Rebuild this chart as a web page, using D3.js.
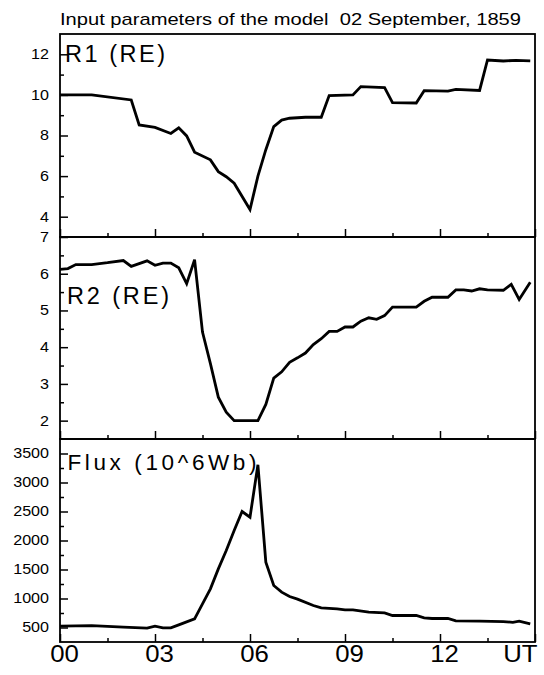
<!DOCTYPE html>
<html>
<head>
<meta charset="utf-8">
<script src="https://cdn.jsdelivr.net/npm/d3@7"></script>
<style>
    body { margin: 0; background: #fff; }
    text { font-family: "Liberation Sans", Arial, sans-serif; fill: #000; }
</style>
</head>
<body>
<svg id="chart" width="544" height="675"></svg>
<script>
// hours UT, values
var r1Time = [0, 1, 2.25, 2.5, 3, 3.5, 3.75, 4, 4.25, 4.75, 5, 5.25, 5.5, 6, 6.25, 6.5, 6.75, 7, 7.25, 7.75,
    8.25, 8.5, 9.25, 9.5, 10.25, 10.5, 11.25, 11.5, 12.25, 12.5, 13.25, 13.5, 14, 14.4, 14.85];
var r1Value = [10.0, 10.0, 9.75, 8.52, 8.4, 8.1, 8.38, 7.98, 7.18, 6.8, 6.22, 5.97, 5.65, 4.35, 6.0, 7.3, 8.44, 8.76, 8.85, 8.9,
    8.9, 9.97, 10.0, 10.41, 10.36, 9.62, 9.6, 10.21, 10.19, 10.27, 10.22, 11.72, 11.67, 11.7, 11.68];

var r2Time = [0, 0.25, 0.5, 1, 1.5, 2, 2.25, 2.75, 3, 3.25, 3.5, 3.75, 4, 4.25, 4.5, 4.75, 5, 5.25, 5.5, 6.25,
    6.5, 6.75, 7, 7.25, 7.5, 7.75, 8, 8.25, 8.5, 8.75, 9, 9.25, 9.5, 9.75, 10, 10.25, 10.5, 11.25, 11.5, 11.75,
    12.25, 12.5, 12.75, 13, 13.25, 13.5, 14, 14.25, 14.5, 14.85];
var r2Value = [6.12, 6.14, 6.25, 6.25, 6.3, 6.36, 6.2, 6.35, 6.23, 6.29, 6.29, 6.16, 5.73, 6.38, 4.41, 3.55, 2.64, 2.23, 2.0, 2.0,
    2.44, 3.16, 3.33, 3.59, 3.71, 3.84, 4.07, 4.23, 4.43, 4.43, 4.55, 4.55, 4.71, 4.8, 4.76, 4.86, 5.09, 5.09, 5.25, 5.36,
    5.36, 5.56, 5.56, 5.53, 5.59, 5.56, 5.55, 5.71, 5.3, 5.77];

var fluxTime = [0, 1, 2, 2.75, 3, 3.25, 3.5, 3.75, 4.25, 4.5, 4.75, 5, 5.25, 5.5, 5.75, 6, 6.25, 6.5, 6.75, 7,
    7.25, 7.5, 8, 8.25, 8.75, 9, 9.25, 9.75, 10.25, 10.5, 11.25, 11.5, 11.75, 12.25, 12.5, 13.25, 14, 14.3, 14.5, 14.85];
var fluxValue = [523, 534, 506, 488, 523, 494, 494, 546, 650, 908, 1167, 1511, 1828, 2172, 2500, 2402, 3305, 1626, 1224, 1110,
    1034, 990, 879, 839, 822, 805, 805, 764, 753, 707, 707, 667, 655, 655, 615, 609, 603, 590, 609, 563];

var xTickHours = [0, 3, 6, 9, 12, 15];
var xTickLabels = ["00", "03", "06", "09", "12", "UT"];
var xMinorHours = [1.5, 4.5, 7.5, 10.5, 13.5];

var r1Ticks = [4, 6, 8, 10, 12], r1Minor = [5, 7, 9, 11];
var r2Ticks = [2, 3, 4, 5, 6, 7], r2Minor = [2.5, 3.5, 4.5, 5.5, 6.5];
var fluxTicks = [500, 1000, 1500, 2000, 2500, 3000, 3500];
var fluxMinor = [750, 1250, 1750, 2250, 2750, 3250];

var titleText = "Input parameters of the model  02 September, 1859";

var left = 60, right = 535;
var stretchX = 1.15;   // the original text is drawn a bit wide

var panels = [
    {time: r1Time, values: r1Value, domain: [3, 13], top: 34, bottom: 237, major: r1Ticks, minor: r1Minor,
        label: "R1 (RE)", lx: 65, ly: 62, lsize: 23.5, lwidth: 100},
    {time: r2Time, values: r2Value, domain: [1.5, 7], top: 237, bottom: 439, major: r2Ticks, minor: r2Minor,
        label: "R2 (RE)", lx: 67, ly: 303.5, lsize: 23.5, lwidth: 102},
    {time: fluxTime, values: fluxValue, domain: [250, 3750], top: 439, bottom: 642, major: fluxTicks, minor: fluxMinor,
        label: "Flux (10^6Wb)", lx: 67.5, ly: 470.3, lsize: 22.5, lwidth: 189}
];

var svg = d3.select("#chart");
var x = d3.scaleLinear().domain([0, 15]).range([left, right]);

function stretch(sel, k) {
    sel.each(function () {
        var w = this.getComputedTextLength();
        d3.select(this).attr("textLength", w * k).attr("lengthAdjust", "spacingAndGlyphs");
    });
}

svg.append("text")
    .attr("x", 60).attr("y", 25)
    .style("font-size", "17px")
    .style("white-space", "pre")
    .attr("textLength", 461).attr("lengthAdjust", "spacingAndGlyphs")
    .text(titleText);

panels.forEach(function (p, i) {
    var y = d3.scaleLinear().domain(p.domain).range([p.bottom, p.top]);
    var g = svg.append("g");

    // left axis, ticks pointing inward
    var ya = g.append("g").attr("transform", "translate(" + left + ",0)")
        .call(d3.axisLeft(y).tickValues(p.major).tickSize(-8).tickPadding(11).tickFormat(d3.format("d")));
    ya.select(".domain").remove();
    ya.selectAll("line").attr("stroke", "#000").attr("stroke-width", 1.5);
    ya.selectAll("text").style("font-size", "14px").attr("fill", "#000");
    stretch(ya.selectAll("text"), stretchX);

    var ym = g.append("g").attr("transform", "translate(" + left + ",0)")
        .call(d3.axisLeft(y).tickValues(p.minor).tickSize(-4).tickFormat(""));
    ym.select(".domain").remove();
    ym.selectAll("line").attr("stroke", "#000").attr("stroke-width", 1.5);

    // bottom axis, ticks pointing up
    var xa = g.append("g").attr("transform", "translate(0," + p.bottom + ")")
        .call(d3.axisBottom(x).tickValues(xTickHours).tickSize(-8).tickPadding(4)
            .tickFormat(function (d, j) { return i === 2 ? xTickLabels[j] : ""; }));
    xa.select(".domain").remove();
    xa.selectAll("line").attr("stroke", "#000").attr("stroke-width", 1.5);
    if (i === 2) {
        xa.selectAll("text").style("font-size", "23px").attr("fill", "#000")
            .attr("dx", function (d, j) { return j === xTickLabels.length - 1 ? 2 : 4; })
            .attr("text-anchor", function (d, j) { return j === xTickLabels.length - 1 ? "end" : "middle"; });
        stretch(xa.selectAll("text"), 1.12);
    }
    var xm = g.append("g").attr("transform", "translate(0," + p.bottom + ")")
        .call(d3.axisBottom(x).tickValues(xMinorHours).tickSize(-4).tickFormat(""));
    xm.select(".domain").remove();
    xm.selectAll("line").attr("stroke", "#000").attr("stroke-width", 1.5);

    // frame
    g.append("rect")
        .attr("x", left).attr("y", p.top)
        .attr("width", right - left).attr("height", p.bottom - p.top)
        .attr("fill", "none").attr("stroke", "#000").attr("stroke-width", 1.8);

    var line = d3.line()
        .x(function (d, k) { return x(p.time[k]); })
        .y(function (d) { return y(d); });
    g.append("path")
        .datum(p.values)
        .attr("d", line)
        .attr("fill", "none")
        .attr("stroke", "#000")
        .attr("stroke-width", 2.8)
        .attr("stroke-linejoin", "miter");

    g.append("text")
        .attr("x", p.lx).attr("y", p.ly)
        .style("font-size", p.lsize + "px")
        .attr("textLength", p.lwidth).attr("lengthAdjust", "spacing")
        .text(p.label);
});
</script>
</body>
</html>
